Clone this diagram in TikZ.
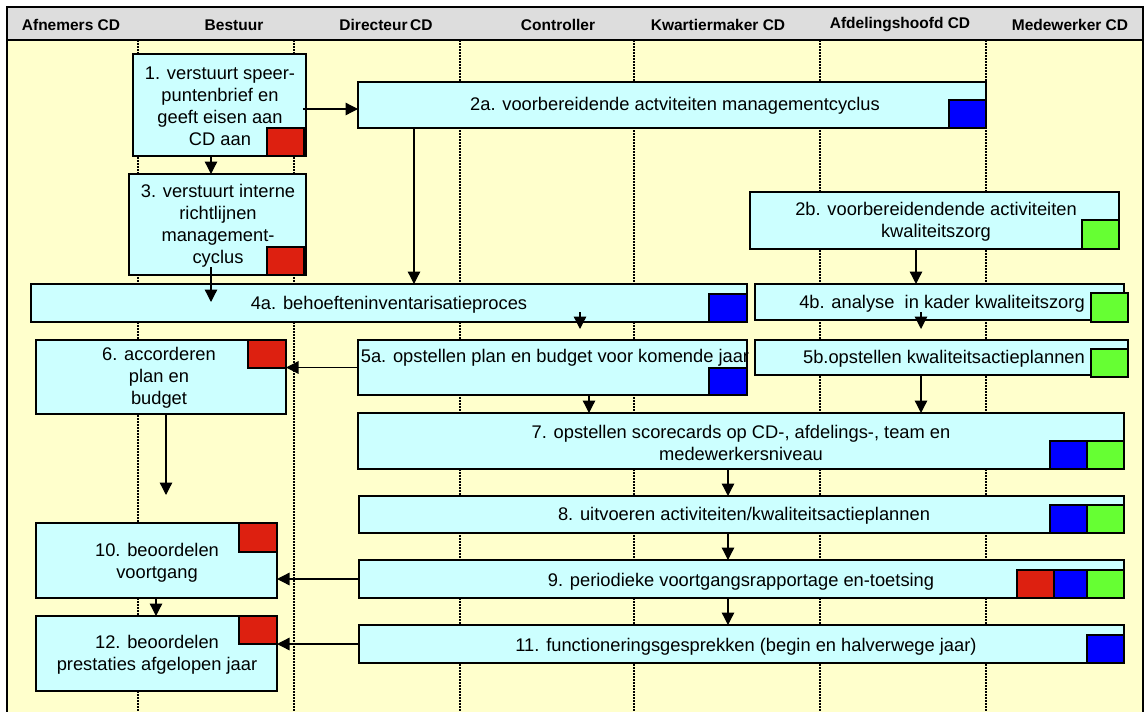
\documentclass[tikz,border=0pt]{standalone}
\usepackage{fontspec}
\setmainfont{Liberation Sans}
\usetikzlibrary{arrows.meta}

\definecolor{lanebg}{HTML}{FFFFCC}
\definecolor{headbg}{HTML}{DDDDDD}
\definecolor{procfill}{HTML}{CCFFFF}
\definecolor{tagred}{HTML}{DD2010}
\definecolor{tagblue}{HTML}{0000FF}
\definecolor{taggreen}{HTML}{66FF33}

\tikzset{
  procbox/.style={draw=black, line width=1.3pt, fill=procfill, inner sep=0pt, outer sep=0pt},
  redtag/.style={draw=black, line width=1.1pt, fill=tagred, inner sep=0pt, outer sep=0pt},
  bluetag/.style={draw=black, line width=1.1pt, fill=tagblue, inner sep=0pt, outer sep=0pt},
  greentag/.style={draw=black, line width=1.1pt, fill=taggreen, inner sep=0pt, outer sep=0pt},
  lbl/.style={inner sep=0pt, align=center, font=\fontsize{18.3}{22}\selectfont},
  hdr/.style={inner sep=0pt, font=\fontsize{15.5}{18}\selectfont\bfseries},
  flow/.style={line width=1.3pt, -{Triangle[length=12.5pt,width=12.5pt]}},
  laneline/.style={line width=1.8pt, dash pattern=on 1.5pt off 1.5pt},
  frameline/.style={line width=2pt},
}

% rectangle node from its corners: style, name, x1, y1, x2, y2
\newcommand\rectnode[6]{%
  \node[#1, minimum width={(#5)-(#3)}, minimum height={(#6)-(#4)}] (#2)
    at ({((#3)+(#5))/2},{((#4)+(#6))/2}) {};%
}

\begin{document}
\begin{tikzpicture}[x=1pt, y=-1pt]
\useasboundingbox (0,0) rectangle (1146,712);

% background, header band and swimlane separators
\fill[white] (0,0) rectangle (1146,712);
\fill[lanebg] (7,40) rectangle (1143,712);
\fill[headbg] (7,7) rectangle (1143,40);
\foreach \lx in {138,294,460,634,820,986}
  \draw[laneline] (\lx,40) -- (\lx,712);
\draw[frameline] (7,712) -- (7,7) -- (1143,7) -- (1143,712);
\draw[frameline] (7,40) -- (1143,40);

% lane headings
\node[hdr] (h1) at (71,25) {Afnemers CD};
\node[hdr] (h2) at (234,25) {Bestuur};
\node[hdr] (h3) at (386,25) {Directeur\,CD};
\node[hdr] (h4) at (558,25) {Controller};
\node[hdr] (h5) at (718,25) {Kwartiermaker CD};
\node[hdr] (h6) at (900,25) {Afdelingshoofd CD};
\node[hdr] (h7) at (1070,25) {Medewerker CD};

% process boxes
\rectnode{procbox}{b1}{133}{54}{306}{156}
\rectnode{procbox}{b2a}{358}{82}{986}{128}
\rectnode{procbox}{b3}{129}{174}{306}{275}
\rectnode{procbox}{b2b}{750}{192}{1119}{249}
\rectnode{procbox}{b4a}{31}{284}{747}{322}
\rectnode{procbox}{b4b}{755}{284}{1124}{320}
\rectnode{procbox}{b5a}{358}{340}{747}{395}
\rectnode{procbox}{b5b}{755}{340}{1128}{375}
\rectnode{procbox}{b6}{36}{340}{286}{414}
\rectnode{procbox}{b7}{358}{413}{1124}{469}
\rectnode{procbox}{b8}{359}{496}{1124}{533}
\rectnode{procbox}{b9}{359}{560}{1124}{598}
\rectnode{procbox}{b10}{36}{523}{277}{598}
\rectnode{procbox}{b11}{359}{625}{1124}{663}
\rectnode{procbox}{b12}{36}{616}{277}{691}

% responsibility tags
\rectnode{redtag}{s1}{267}{128}{304}{156}
\rectnode{redtag}{s3}{267}{247}{304}{275}
\rectnode{bluetag}{s2a}{949}{100}{986}{128}
\rectnode{greentag}{s2b}{1082}{220}{1119}{249}
\rectnode{bluetag}{s4a}{709}{294}{747}{322}
\rectnode{greentag}{s4b}{1091}{293}{1128}{322}
\rectnode{bluetag}{s5a}{709}{368}{747}{395}
\rectnode{greentag}{s5b}{1091}{349}{1128}{377}
\rectnode{redtag}{s6}{248}{340}{286}{368}
\rectnode{bluetag}{s7b}{1050}{441}{1087}{469}
\rectnode{greentag}{s7g}{1087}{441}{1124}{469}
\rectnode{bluetag}{s8b}{1050}{505}{1087}{533}
\rectnode{greentag}{s8g}{1087}{505}{1124}{533}
\rectnode{redtag}{s9r}{1017}{570}{1054}{598}
\rectnode{bluetag}{s9b}{1054}{570}{1087}{598}
\rectnode{greentag}{s9g}{1087}{570}{1124}{598}
\rectnode{redtag}{s10}{239}{523}{277}{552}
\rectnode{bluetag}{s11}{1087}{635}{1124}{663}
\rectnode{redtag}{s12}{239}{616}{277}{644}

% box texts
\node[lbl] (t1) at (220,106) {1. verstuurt speer-\\puntenbrief en\\geeft eisen aan\\CD aan};
\node[lbl] (t2a) at (675,106) {2a. voorbereidende actviteiten managementcyclus};
\node[lbl] (t3) at (218,226) {3. verstuurt interne\\richtlijnen\\management-\\cyclus};
\node[lbl] (t2b) at (936,222) {2b. voorbereidendende activiteiten\\kwaliteitszorg};
\node[lbl] (t4a) at (389,305) {4a. behoefteninventarisatieproces};
\node[lbl] (t4b) at (942,304) {4b. analyse\ \ in kader kwaliteitszorg};
\node[lbl] (t5a) at (555,358) {5a. opstellen plan en budget voor komende jaar};
\node[lbl] (t5b) at (944,359) {5b.opstellen kwaliteitsactieplannen};
\node[lbl] (t6) at (159,378) {6. accorderen\\plan en\\budget};
\node[lbl] (t7) at (741,443) {7. opstellen scorecards op CD-, afdelings-, team en\\medewerkersniveau};
\node[lbl] (t8) at (744,516) {8. uitvoeren activiteiten/kwaliteitsactieplannen};
\node[lbl] (t9) at (741,582) {9. periodieke voortgangsrapportage en-toetsing};
\node[lbl] (t10) at (157,563) {10. beoordelen\\voortgang};
\node[lbl] (t11) at (746,647) {11. functioneringsgesprekken (begin en halverwege jaar)};
\node[lbl] (t12) at (157,655) {12. beoordelen\\prestaties afgelopen jaar};

% flow connectors
\coordinate (e6) at (166,495);
\draw[flow] ([xshift=-3pt,yshift=-4pt]b1.east) -- ([yshift=-4pt]b2a.west);
\draw[flow] ([xshift=-8.5pt]b1.south) -- ([xshift=-6.5pt]b3.north);
\draw[flow] ([xshift=-258pt]b2a.south) -- ([xshift=25pt]b4a.north);
\draw[flow] ([xshift=-6.5pt,yshift=8pt]b3.south) -- ([xshift=-178pt,yshift=-18pt]b4a.north);
\draw[flow] ([xshift=-18.5pt]b2b.south) -- ([xshift=-23.5pt]b4b.north);
\draw[flow] ([xshift=191pt,yshift=10pt]b4a.south) -- ([xshift=27.5pt,yshift=11pt]b5a.north);
\draw[flow] ([xshift=-18.5pt,yshift=8pt]b4b.south) -- ([xshift=-20.5pt,yshift=11pt]b5b.north);
\draw[flow] (b5a.west) -- (b5a.west -| b6.east);
\draw[flow] ([xshift=36.5pt]b5a.south) -- ([xshift=-152pt]b7.north);
\draw[flow] ([xshift=-20.5pt]b5b.south) -- ([xshift=180pt]b7.north);
\draw[flow] ([xshift=5pt]b6.south) -- (e6);
\draw[flow] ([xshift=-13pt]b7.south) -- ([xshift=-13.5pt]b8.north);
\draw[flow] ([xshift=-13.5pt]b8.south) -- ([xshift=-13.5pt]b9.north);
\draw[flow] (b9.west) -- (b9.west -| b10.east);
\draw[flow] ([xshift=-13.5pt]b9.south) -- ([xshift=-13.5pt]b11.north);
\draw[flow] ([xshift=-0.5pt]b10.south) -- ([xshift=-0.5pt]b12.north);
\draw[flow] (b11.west) -- (b11.west -| b12.east);
\end{tikzpicture}
\end{document}
